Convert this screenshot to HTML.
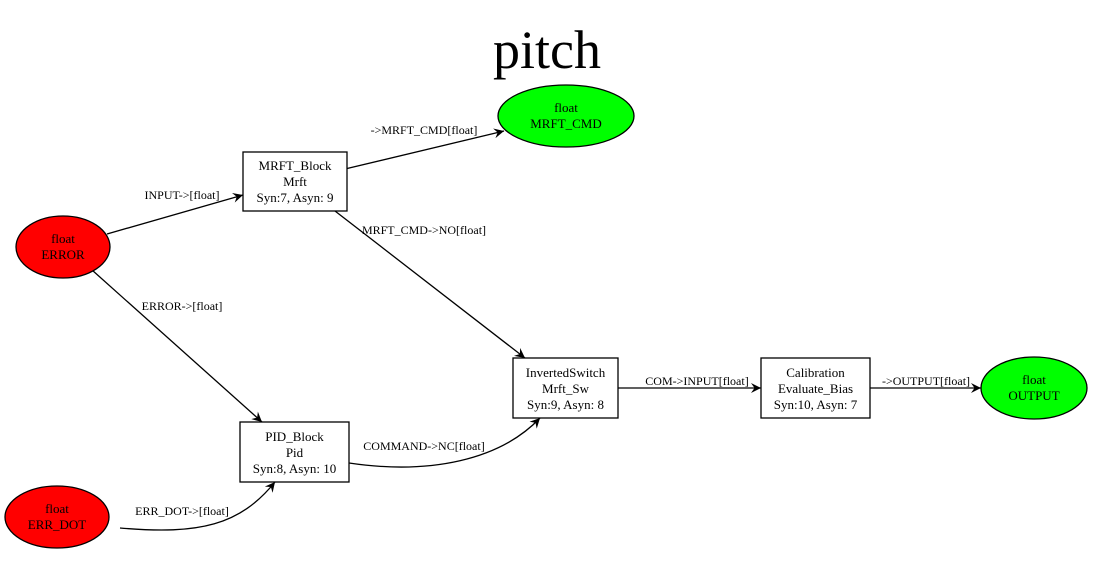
<!DOCTYPE html>
<html><head><meta charset="utf-8"><style>
html,body{margin:0;padding:0;background:#fff}
svg{display:block}
text{font-family:"Liberation Serif",serif}
.n{font-size:13px}
.e{font-size:12px}
</style></head><body>
<svg width="1113" height="579" viewBox="0 0 1113 579" xmlns="http://www.w3.org/2000/svg">
<defs>
<marker id="a" viewBox="0 0 10 10" refX="10" refY="5" markerWidth="10" markerHeight="10" markerUnits="userSpaceOnUse" orient="auto">
<path d="M0,0 L10,5 L0,10 L3.5,5 z" fill="#000"/>
</marker>
</defs>
<text x="547" y="68" text-anchor="middle" font-size="54">pitch</text>
<g fill="none" stroke="#000" stroke-width="1.3" marker-end="url(#a)">
<path d="M107,234 L243,195"/>
<path d="M345,169 L504,131"/>
<path d="M335,211 L525,358"/>
<path d="M92,270 L262,422"/>
<path d="M349,463 C430,475 500,460 540,418"/>
<path d="M120,528 C200,535 240,525 275,482"/>
<path d="M618,388 L761,388"/>
<path d="M870,388 L981,388"/>
</g>
<g class="e" text-anchor="middle">
<text x="182" y="199">INPUT-&gt;[float]</text>
<text x="424" y="134">-&gt;MRFT_CMD[float]</text>
<text x="424" y="234">MRFT_CMD-&gt;NO[float]</text>
<text x="182" y="310">ERROR-&gt;[float]</text>
<text x="424" y="450">COMMAND-&gt;NC[float]</text>
<text x="182" y="515">ERR_DOT-&gt;[float]</text>
<text x="697" y="385">COM-&gt;INPUT[float]</text>
<text x="926" y="385">-&gt;OUTPUT[float]</text>
</g>
<g stroke="#000" stroke-width="1.3">
<ellipse cx="63" cy="247" rx="47" ry="31" fill="#f00"/>
<ellipse cx="57" cy="517" rx="52" ry="31" fill="#f00"/>
<ellipse cx="566" cy="116" rx="68" ry="31" fill="#0f0"/>
<ellipse cx="1034" cy="388" rx="53" ry="31" fill="#0f0"/>
<rect x="243" y="152" width="104" height="59" fill="#fff"/>
<rect x="240" y="422" width="109" height="60" fill="#fff"/>
<rect x="513" y="358" width="105" height="60" fill="#fff"/>
<rect x="761" y="358" width="109" height="60" fill="#fff"/>
</g>
<g class="n" text-anchor="middle">
<text x="63" y="243">float</text><text x="63" y="259">ERROR</text>
<text x="57" y="513">float</text><text x="57" y="529">ERR_DOT</text>
<text x="566" y="112">float</text><text x="566" y="128">MRFT_CMD</text>
<text x="1034" y="384">float</text><text x="1034" y="400">OUTPUT</text>
<text x="295" y="170">MRFT_Block</text><text x="295" y="186">Mrft</text><text x="295" y="202">Syn:7, Asyn: 9</text>
<text x="294.5" y="441">PID_Block</text><text x="294.5" y="457">Pid</text><text x="294.5" y="473">Syn:8, Asyn: 10</text>
<text x="565.5" y="377">InvertedSwitch</text><text x="565.5" y="393">Mrft_Sw</text><text x="565.5" y="409">Syn:9, Asyn: 8</text>
<text x="815.5" y="377">Calibration</text><text x="815.5" y="393">Evaluate_Bias</text><text x="815.5" y="409">Syn:10, Asyn: 7</text>
</g>
</svg>
</body></html>
